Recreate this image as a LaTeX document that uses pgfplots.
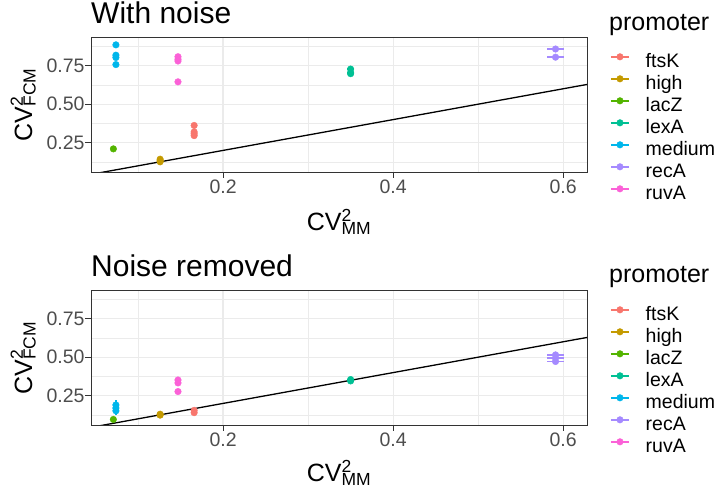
\documentclass[border=0pt]{standalone}
\usepackage{pgfplots}
\pgfplotsset{compat=1.18}
\usepackage{fontspec}
\setmainfont{Liberation Sans}

\definecolor{cftsK}{HTML}{F8766D}
\definecolor{chigh}{HTML}{C49A00}
\definecolor{clacZ}{HTML}{53B400}
\definecolor{clexA}{HTML}{00C094}
\definecolor{cmedium}{HTML}{00B6EB}
\definecolor{crecA}{HTML}{A58AFF}
\definecolor{cruvA}{HTML}{FB61D7}
\definecolor{gridc}{HTML}{EBEBEB}
\definecolor{framec}{HTML}{333333}
\definecolor{tickc}{HTML}{4D4D4D}

\pgfplotsset{
  panel/.style={
    scale only axis, width=496pt, height=135pt,
    xmin=0.0447, xmax=0.628, ymin=0.06, ymax=0.936,
    xtick={0.2,0.4,0.6}, ytick={0.25,0.5,0.75},
    minor xtick={0.1,0.3,0.5}, minor ytick={0.125,0.375,0.625,0.875},
    grid=both,
    major grid style={color=gridc, line width=1.2pt},
    minor grid style={color=gridc, line width=0.6pt},
    axis line style={color=framec, line width=0.9pt},
    tick align=outside, major tick length=6pt, minor tick length=0pt,
    tick pos=left,
    tick style={color=framec, line width=0.9pt},
    /pgf/number format/assume math mode=true,
    xticklabel style={yshift=2pt, /pgf/number format/fixed, /pgf/number format/fixed zerofill, /pgf/number format/precision=1},
    yticklabel style={xshift=3pt, /pgf/number format/fixed, /pgf/number format/fixed zerofill, /pgf/number format/precision=2},
    ticklabel style={font=\fontsize{19.5}{22}\selectfont, color=tickc},
    legend image code/.code={
      \draw[##1, line width=1.5pt] (0pt,6.5pt) -- (18pt,6.5pt);
      \fill[##1] (9pt,6.5pt) circle (3.3pt);},
    legend cell align=left,
    legend style={at={(1.0464,0.888)}, anchor=north west, draw=none, fill=none,
      inner sep=0pt, row sep=0pt, font=\fontsize{19.5}{22}\selectfont,
      nodes={inner sep=0pt, text height=15pt, text depth=7pt},
      /tikz/every odd column/.append style={column sep=16pt}},
  },
  pr/.style={only marks, mark=*, mark size=3.3pt, color=#1,
    mark options={solid, fill=#1, draw=#1}, forget plot,
    error bars/.cd, x dir=both, x explicit, y dir=both, y explicit,
    error mark=none, error bar style={line width=1.5pt, #1}},
}

\begin{document}
\begin{tikzpicture}
\path[use as bounding box] (0,0) rectangle (716pt,489pt);

% top panel: with noise
\begin{axis}[panel, at={(91pt,317pt)}, anchor=south west]
\addplot[pr=cftsK] table[x=x, y=y, x error=ex, y error=ey] {
x y ex ey
0.166 0.362 0.002 0.006
0.166 0.320 0.002 0.006
0.166 0.308 0.002 0.006
0.166 0.296 0.002 0.006
};
\addplot[pr=chigh] table[x=x, y=y, x error=ex, y error=ey] {
x y ex ey
0.126 0.143 0.002 0.006
0.126 0.133 0.002 0.006
0.126 0.126 0.002 0.005
};
\addplot[pr=clacZ] table[x=x, y=y, x error=ex, y error=ey] {
x y ex ey
0.071 0.210 0.001 0.004
};
\addplot[pr=clexA] table[x=x, y=y, x error=ex, y error=ey] {
x y ex ey
0.350 0.728 0.004 0.014
0.350 0.705 0.004 0.014
0.350 0.698 0.004 0.012
};
\addplot[pr=cmedium] table[x=x, y=y, x error=ex, y error=ey] {
x y ex ey
0.074 0.885 0.001 0.005
0.074 0.818 0.001 0.005
0.074 0.803 0.001 0.005
0.074 0.757 0.001 0.005
};
\addplot[pr=crecA] table[x=x, y=y, x error=ex, y error=ey] {
x y ex ey
0.591 0.858 0.0105 0.005
0.591 0.805 0.0105 0.005
};
\addplot[pr=cruvA] table[x=x, y=y, x error=ex, y error=ey] {
x y ex ey
0.147 0.808 0.001 0.006
0.147 0.792 0.001 0.006
0.147 0.780 0.001 0.006
0.147 0.645 0.001 0.005
};
\addplot[black, line width=1.3pt, forget plot] coordinates {(0,0) (1,1)};
\addlegendimage{cftsK}\addlegendentry{ftsK}
\addlegendimage{chigh}\addlegendentry{high}
\addlegendimage{clacZ}\addlegendentry{lacZ}
\addlegendimage{clexA}\addlegendentry{lexA}
\addlegendimage{cmedium}\addlegendentry{medium}
\addlegendimage{crecA}\addlegendentry{recA}
\addlegendimage{cruvA}\addlegendentry{ruvA}
\end{axis}

% bottom panel: noise removed
\begin{axis}[panel, at={(91pt,64pt)}, anchor=south west]
\addplot[pr=cftsK] table[x=x, y=y, x error=ex, y error=ey] {
x y ex ey
0.166 0.155 0.002 0.012
0.166 0.140 0.002 0.010
};
\addplot[pr=chigh] table[x=x, y=y, x error=ex, y error=ey] {
x y ex ey
0.126 0.130 0.002 0.008
0.126 0.124 0.002 0.008
};
\addplot[pr=clacZ] table[x=x, y=y, x error=ex, y error=ey] {
x y ex ey
0.071 0.096 0.001 0.005
};
\addplot[pr=clexA] table[x=x, y=y, x error=ex, y error=ey] {
x y ex ey
0.350 0.355 0.004 0.016
0.350 0.346 0.004 0.014
};
\addplot[pr=cmedium] table[x=x, y=y, x error=ex, y error=ey] {
x y ex ey
0.074 0.190 0.001 0.032
0.074 0.170 0.001 0.030
0.074 0.152 0.001 0.028
};
\addplot[pr=crecA] table[x=x, y=y, x error=ex, y error=ey] {
x y ex ey
0.591 0.515 0.0105 0.012
0.591 0.494 0.0105 0.012
0.591 0.472 0.0105 0.010
};
\addplot[pr=cruvA] table[x=x, y=y, x error=ex, y error=ey] {
x y ex ey
0.147 0.352 0.001 0.022
0.147 0.333 0.001 0.020
0.147 0.277 0.001 0.012
};
\addplot[black, line width=1.3pt, forget plot] coordinates {(0,0) (1,1)};
\addlegendimage{cftsK}\addlegendentry{ftsK}
\addlegendimage{chigh}\addlegendentry{high}
\addlegendimage{clacZ}\addlegendentry{lacZ}
\addlegendimage{clexA}\addlegendentry{lexA}
\addlegendimage{cmedium}\addlegendentry{medium}
\addlegendimage{crecA}\addlegendentry{recA}
\addlegendimage{cruvA}\addlegendentry{ruvA}
\end{axis}

% titles and axis labels
\node[anchor=base west, inner sep=0pt, font=\fontsize{30}{33}\selectfont] at (91pt,465pt) {With noise};
\node[anchor=base west, inner sep=0pt, font=\fontsize{30}{33}\selectfont] at (91pt,212pt) {Noise removed};
\node[anchor=base west, inner sep=0pt, font=\fontsize{25}{28}\selectfont] at (609pt,458pt) {promoter};
\node[anchor=base west, inner sep=0pt, font=\fontsize{25}{28}\selectfont] at (609pt,206pt) {promoter};
\node[anchor=base, inner sep=0pt, font=\fontsize{25}{28}\selectfont] at (339pt,258pt) {CV\rlap{\textsuperscript{2}}\textsubscript{MM}};
\node[anchor=base, inner sep=0pt, font=\fontsize{25}{28}\selectfont] at (339pt,7pt) {CV\rlap{\textsuperscript{2}}\textsubscript{MM}};
\node[anchor=base, rotate=90, inner sep=0pt, font=\fontsize{25}{28}\selectfont] at (32pt,384.5pt) {CV\rlap{\textsuperscript{2}}\textsubscript{FCM}};
\node[anchor=base, rotate=90, inner sep=0pt, font=\fontsize{25}{28}\selectfont] at (32pt,131pt) {CV\rlap{\textsuperscript{2}}\textsubscript{FCM}};
\end{tikzpicture}
\end{document}
